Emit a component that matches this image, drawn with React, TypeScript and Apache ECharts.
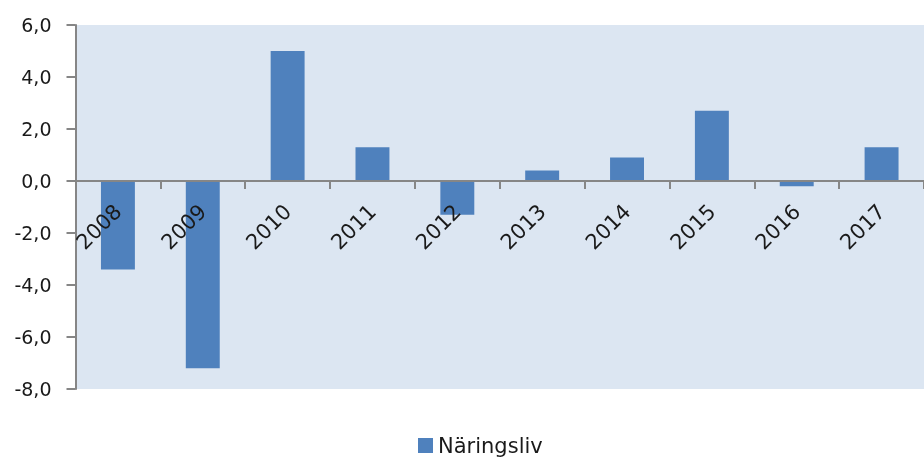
import React, { useEffect, useRef } from "react";
import * as echarts from "echarts";

const categories = ["2008", "2009", "2010", "2011", "2012", "2013", "2014", "2015", "2016", "2017"];
const seriesName = "Näringsliv";
const values = [-3.4, -7.2, 5.0, 1.3, -1.3, 0.4, 0.9, 2.7, -0.2, 1.3];
const yMin = -8;
const yMax = 6;
const yStep = 2;

const FONT = "DejaVu Sans";
const GRID_TOP = 25;
const GRID_H = 364;

export default function App() {
  const ref = useRef<HTMLDivElement>(null);
  useEffect(() => {
    if (!ref.current) return;
    const chart = echarts.init(ref.current, null, { renderer: "svg" });
    // distance from zero line to bottom of grid, used to lift the x axis onto zero
    const zeroOffset = (GRID_H * (0 - yMin)) / (yMax - yMin);
    chart.setOption({
      animation: false,
      textStyle: { fontFamily: FONT },
      grid: {
        left: 75.5,
        top: GRID_TOP,
        width: 856,
        height: GRID_H,
        show: true,
        backgroundColor: "#dce6f2",
        borderWidth: 0,
        containLabel: false,
      },
      legend: {
        data: [seriesName],
        left: 418,
        top: 435,
        padding: 0,
        icon: "rect",
        itemWidth: 15,
        itemHeight: 15,
        itemGap: 8,
        textStyle: { fontFamily: FONT, fontSize: 21, lineHeight: 18, color: "#1a1a1a" },
      },
      xAxis: {
        type: "category",
        data: categories,
        z: 10,
        offset: -zeroOffset,
        axisLine: { onZero: false, lineStyle: { color: "#868686", width: 2 } },
        axisTick: { show: true, length: 8, lineStyle: { color: "#868686", width: 2 } },
        axisLabel: {
          rotate: 45,
          margin: 27,
          fontFamily: FONT,
          fontSize: 21,
          color: "#1a1a1a",
          interval: 0,
        },
        splitLine: { show: false },
      },
      yAxis: {
        type: "value",
        min: yMin,
        max: yMax,
        interval: yStep,
        axisLine: { show: true, lineStyle: { color: "#868686", width: 2 } },
        axisTick: { show: true, length: 9, lineStyle: { color: "#868686", width: 2 } },
        axisLabel: {
          margin: 24,
          fontFamily: FONT,
          fontSize: 19,
          color: "#1a1a1a",
          formatter: (v: number) => v.toFixed(1).replace(".", ","),
        },
        splitLine: { show: false },
      },
      series: [
        {
          name: seriesName,
          type: "bar",
          data: values,
          barWidth: "40%",
          itemStyle: { color: "#4f81bd" },
        },
      ],
    });
    return () => chart.dispose();
  }, []);
  return (
    <div
      ref={ref}
      style={{ position: "fixed", left: 0, top: 0, width: 924, height: 457 }}
    />
  );
}
